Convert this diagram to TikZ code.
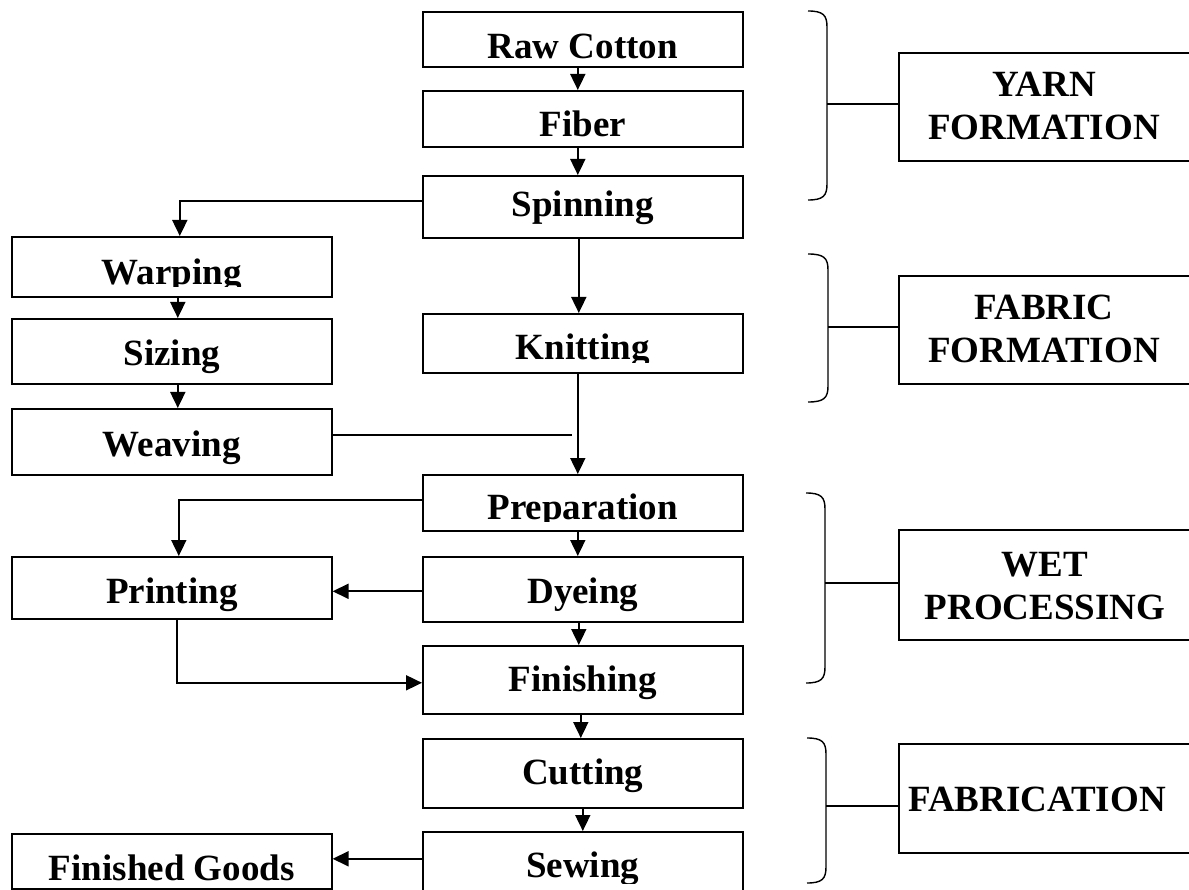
\documentclass[tikz,border=0pt]{standalone}
\usepackage{fontspec}
\setmainfont{Liberation Serif}
\usetikzlibrary{arrows.meta}
\newcommand\mybrace[4]{%
  \draw[brc] (#1,#3) .. controls ({#2-4},#3) and (#2,{#3+4}) .. (#2,{#3+16})
    -- (#2,{#4-16}) .. controls (#2,{#4-4}) and ({#2-4},#4) .. (#1,#4);}
\begin{document}
\begin{tikzpicture}[x=1pt,y=-1pt,
  box/.style={draw, line width=1.6pt, inner sep=0pt, anchor=north west, minimum width=320pt},
  gbox/.style={draw, line width=1.6pt, inner sep=0pt, anchor=north west, minimum width=310pt},
  lbl/.style={font=\fontsize{37}{42}\selectfont\bfseries, inner sep=0pt, anchor=base},
  conn/.style={line width=1.8pt},
  arr/.style={line width=1.8pt, -{Triangle[length=16pt 0,width=15pt 0]}},
  brc/.style={line width=1.4pt},
]
\useasboundingbox (0,0) rectangle (1189,890);
\clip (0,0) rectangle (1189,890);

% process boxes
\node[box, minimum height=55pt] (raw)   at (422,11)  {};
\node[box, minimum height=56pt] (fib)   at (422,90)  {};
\node[box, minimum height=62pt] (spin)  at (422,175) {};
\node[box, minimum height=60pt] (warp)  at (11,236)  {};
\node[box, minimum height=65pt] (siz)   at (11,318)  {};
\node[box, minimum height=66pt] (weav)  at (11,408)  {};
\node[box, minimum height=59pt] (knit)  at (422,313) {};
\node[box, minimum height=56pt] (prep)  at (422,474) {};
\node[box, minimum height=62pt] (print) at (11,556)  {};
\node[box, minimum height=65pt] (dye)   at (422,556) {};
\node[box, minimum height=68pt] (fin)   at (422,645) {};
\node[box, minimum height=69pt] (cut)   at (422,738) {};
\node[box, minimum height=62pt] (sew)   at (422,831) {};
\node[box, minimum height=55pt] (fg)    at (11,833)  {};

% group boxes (right edge lies outside the picture)
\node[gbox, minimum height=108pt] (yarn)   at (898,52)  {};
\node[gbox, minimum height=108pt] (fabric) at (898,275) {};
\node[gbox, minimum height=110pt] (wet)    at (898,529) {};
\node[gbox, minimum height=109pt] (fabr)   at (898,743) {};

% labels
\node[lbl] (traw)   at ([yshift=9pt]raw.south)   {Raw Cotton};
\node[lbl] (tfib)   at ([yshift=11pt]fib.south)  {Fiber};
\begin{scope}
  \clip (spin.north west) rectangle ([yshift=13pt]spin.south east);
  \node[lbl] (tspin) at ([yshift=22pt]spin.south) {Spinning};
\end{scope}
\begin{scope}
  \clip (warp.north west) rectangle ([yshift=11pt]warp.south east);
  \node[lbl] (twarp) at ([yshift=13pt]warp.south) {Warping};
\end{scope}
\node[lbl] (tsiz)   at ([yshift=19pt]siz.south)  {Sizing};
\node[lbl] (tweav)  at ([yshift=19pt]weav.south) {Weaving};
\begin{scope}
  \clip (knit.north west) rectangle ([yshift=11pt]knit.south east);
  \node[lbl] (tknit) at ([yshift=14pt]knit.south) {Knitting};
\end{scope}
\begin{scope}
  \clip (prep.north west) rectangle ([yshift=10pt]prep.south east);
  \node[lbl] (tprep) at ([yshift=12pt]prep.south) {Preparation};
\end{scope}
\node[lbl] (tprint) at ([yshift=16pt]print.south) {Printing};
\node[lbl] (tdye)   at ([yshift=19pt]dye.south)   {Dyeing};
\node[lbl] (tfin)   at ([yshift=23pt]fin.south)   {Finishing};
\node[lbl] (tcut)   at ([yshift=24pt]cut.south)   {Cutting};
\begin{scope}
  \clip (sew.north west) rectangle ([yshift=11pt]sew.south east);
  \node[lbl] (tsew) at ([yshift=17pt]sew.south) {Sewing};
\end{scope}
\node[lbl] (tfg)    at ([yshift=9pt]fg.south)    {Finished Goods};

\node[lbl] (tyarn1) at ([xshift=146pt,yshift=-45pt]yarn.north west)   {YARN};
\node[lbl] (tyarn2) at ([xshift=146pt,yshift=-88pt]yarn.north west)   {FORMATION};
\node[lbl] (tfab1)  at ([xshift=146pt,yshift=-45pt]fabric.north west) {FABRIC};
\node[lbl] (tfab2)  at ([xshift=146pt,yshift=-88pt]fabric.north west) {FORMATION};
\node[lbl] (twet1)  at ([xshift=147pt,yshift=-47pt]wet.north west)    {WET};
\node[lbl] (twet2)  at ([xshift=147pt,yshift=-90pt]wet.north west)    {PROCESSING};
\node[lbl, anchor=base west] (tfabr) at ([xshift=10pt,yshift=-68pt]fabr.north west) {FABRICATION};

% braces
\mybrace{808}{827}{11}{200}
\mybrace{808}{828}{254}{402}
\mybrace{806}{825}{493}{683}
\mybrace{807}{826}{738}{883}
\coordinate (by)  at (827,104);
\coordinate (bf)  at (828,327);
\coordinate (bw)  at (825,583);
\coordinate (bfb) at (826,806);
\draw[brc] (by)  -- (by -| yarn.west);
\draw[brc] (bf)  -- (bf -| fabric.west);
\draw[brc] (bw)  -- (bw -| wet.west);
\draw[brc] (bfb) -- (bfb -| fabr.west);

% connectors
\draw[arr] ([xshift=-5pt]raw.south)  -- ([xshift=-5pt]fib.north);
\draw[arr] ([xshift=-5pt]fib.south)  -- ([xshift=-5pt]spin.north);
\draw[arr] ([yshift=6pt]spin.west) -| ([xshift=8pt]warp.north);
\draw[arr] ([xshift=-4pt]spin.south) -- ([xshift=-4pt]knit.north);
\draw[arr] ([xshift=6pt]warp.south) -- ([xshift=6pt]siz.north);
\draw[arr] ([xshift=6pt]siz.south)  -- ([xshift=6pt]weav.north);
\coordinate (wj) at (572,435);
\draw[conn] (wj -| weav.east) -- (wj);
\draw[arr] ([xshift=-5pt]knit.south) -- ([xshift=-5pt]prep.north);
\draw[arr] ([yshift=3pt]prep.west) -| ([xshift=7pt]print.north);
\draw[arr] ([xshift=-5pt]prep.south) -- ([xshift=-5pt]dye.north);
\coordinate (dp) at ([yshift=-2pt]dye.west);
\draw[arr] (dp) -- (dp -| print.east);
\draw[arr] ([xshift=-4pt]dye.south) -- ([xshift=-4pt]fin.north);
\draw[arr] ([xshift=5pt]print.south) |- ([yshift=-3pt]fin.west);
\draw[arr] ([xshift=-2pt]fin.south) -- ([xshift=-2pt]cut.north);
\draw[arr] (cut.south) -- (sew.north);
\coordinate (sp) at ([yshift=4pt]sew.west);
\draw[arr] (sp) -- (sp -| fg.east);
\end{tikzpicture}
\end{document}
